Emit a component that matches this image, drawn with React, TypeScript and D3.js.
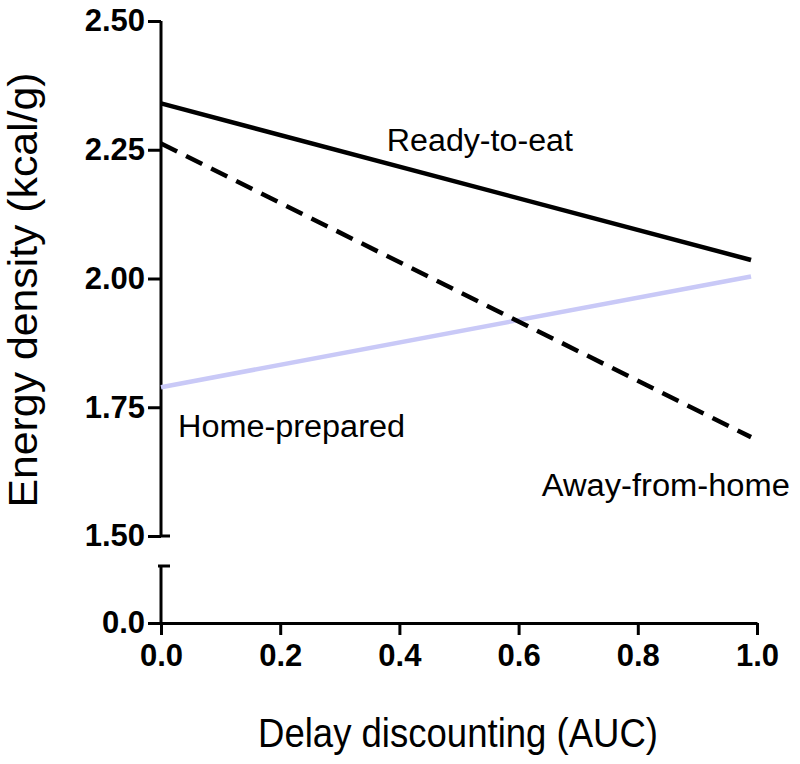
import React, { useEffect, useRef } from 'react';
import * as d3 from 'd3';

// series: value at AUC start and end
const xValues = [0, 0.99];
const readyToEat = [2.34, 2.036];
const awayFromHome = [2.262, 1.692];
const homePrepared = [1.789, 2.004];

const xTicks = [0, 0.2, 0.4, 0.6, 0.8, 1.0];
const yTicksUpper = [1.5, 1.75, 2.0, 2.25, 2.5];
const yTicksLower = [0];

const labelNames = ['Ready-to-eat', 'Home-prepared', 'Away-from-home'];
const labelX = [0.379, 0.0285, 0.639];
const labelY = [2.247, 1.692, 1.578];

const App = () => {
  const svgRef = useRef<SVGSVGElement>(null);

  useEffect(() => {
    const svg = d3.select(svgRef.current);
    svg.selectAll('*').remove();

    const font = '"Liberation Sans", Arial, sans-serif';
    const x = d3.scaleLinear().domain([0, 1]).range([161, 757]);
    const yUp = d3.scaleLinear().domain([1.5, 2.5]).range([536, 21]);
    const yLow = d3.scaleLinear().domain([0, 0.1]).range([623, 566]);

    const styleAxis = (g) => {
      g.select('.domain').attr('stroke', '#000').attr('stroke-width', 3);
      g.selectAll('.tick line').attr('stroke', '#000').attr('stroke-width', 3);
      g.selectAll('.tick text').attr('fill', '#000')
        .style('font-family', font).style('font-weight', 'bold').style('font-size', '31px');
    };

    // upper y axis
    const gUp = svg.append('g').attr('transform', `translate(${x(0)},0)`)
      .call(d3.axisLeft(yUp).tickValues(yTicksUpper).tickFormat(d3.format('.2f')).tickSize(13).tickSizeOuter(0).tickPadding(3));
    styleAxis(gUp);
    gUp.select('.domain').attr('d', `M0,${yUp(2.5)}V${yUp(1.5)}`);
    // break caps
    gUp.append('line').attr('x1', -1).attr('x2', 9).attr('y1', yUp(1.5)).attr('y2', yUp(1.5)).attr('stroke', '#000').attr('stroke-width', 3);

    // lower y axis
    const gLow = svg.append('g').attr('transform', `translate(${x(0)},0)`)
      .call(d3.axisLeft(yLow).tickValues(yTicksLower).tickFormat(d3.format('.1f')).tickSize(13).tickSizeOuter(0).tickPadding(3));
    styleAxis(gLow);
    gLow.select('.domain').attr('d', `M0,${yLow(0.1)}V${yLow(0)}`);
    gLow.append('line').attr('x1', -3).attr('x2', 9).attr('y1', yLow(0.1)).attr('y2', yLow(0.1)).attr('stroke', '#000').attr('stroke-width', 3);

    // x axis
    const gx = svg.append('g').attr('transform', `translate(0,${yLow(0)})`)
      .call(d3.axisBottom(x).tickValues(xTicks).tickFormat(d3.format('.1f')).tickSize(12).tickSizeOuter(0).tickPadding(9));
    styleAxis(gx);

    const line = d3.line<number>().x((_, i) => x(xValues[i])).y((d) => yUp(d));

    svg.append('path').attr('d', line(homePrepared)).attr('fill', 'none').attr('stroke', '#c9c9f7').attr('stroke-width', 4.5);
    svg.append('path').attr('d', line(awayFromHome)).attr('fill', 'none').attr('stroke', '#000').attr('stroke-width', 4.5).attr('stroke-dasharray', '18,10');
    svg.append('path').attr('d', line(readyToEat)).attr('fill', 'none').attr('stroke', '#000').attr('stroke-width', 4.5);

    const labelWidths = [186, 227, 248];
    svg.selectAll('.slabel').data(labelNames).enter().append('text')
      .attr('class', 'slabel')
      .attr('x', (_, i) => x(labelX[i])).attr('y', (_, i) => yUp(labelY[i]))
      .attr('textLength', (_, i) => labelWidths[i]).attr('lengthAdjust', 'spacingAndGlyphs')
      .style('font-family', font).style('font-size', '31px').attr('fill', '#000')
      .text((d) => d);

    // axis titles
    svg.append('text').attr('x', 458).attr('y', 747).attr('text-anchor', 'middle')
      .attr('textLength', 400).attr('lengthAdjust', 'spacingAndGlyphs')
      .style('font-family', font).style('font-size', '40px').text('Delay discounting (AUC)');
    svg.append('text').attr('transform', 'translate(37,290) rotate(-90)').attr('text-anchor', 'middle')
      .attr('textLength', 435).attr('lengthAdjust', 'spacingAndGlyphs')
      .style('font-family', font).style('font-size', '40px').text('Energy density (kcal/g)');
  }, []);

  return (
    <svg ref={svgRef} width={800} height={764}
      style={{ position: 'absolute', left: 0, top: 0, background: '#fff' }} />
  );
};

export default App;
